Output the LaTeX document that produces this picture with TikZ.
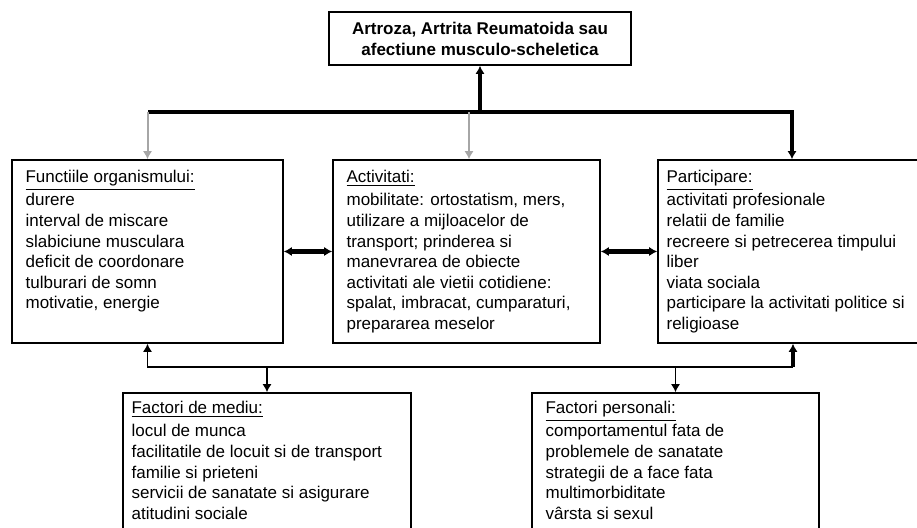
\documentclass[tikz,border=0pt]{standalone}
\usepackage{fontspec}
\setmainfont{Liberation Sans}
\usetikzlibrary{arrows.meta,calc}
\tikzset{
  box/.style={draw, line width=.8pt, inner sep=0pt},
  txt/.style={anchor=north west, align=left, inner sep=0pt, font=\fontsize{8.5}{10.3}\selectfont},
  heavy/.style={line width=2.2pt},
  light/.style={line width=1pt, gray!70},
  bus/.style={line width=.8pt},
}
\begin{document}
\begin{tikzpicture}[x=.5pt, y=.5pt, >={Latex[length=4pt,width=4.6pt]}]
\useasboundingbox (0,0) rectangle (917,528);
\node[box, minimum width=151pt, minimum height=26.5pt, align=center, font=\bfseries\fontsize{8.5}{10.5}\selectfont] (top) at (480,489.5) {Artroza, Artrita Reumatoida sau\\afectiune musculo-scheletica};
\node[box, minimum width=135.5pt, minimum height=91.5pt] (func) at (147.5,276.5) {};
\node[box, minimum width=133.5pt, minimum height=91.5pt] (activ) at (466.5,276.5) {};
\node[box, minimum width=145pt, minimum height=91.5pt] (part) at (803,276.5) {};
\node[box, minimum width=144pt, minimum height=82.5pt] (mediu) at (267,52.5) {};
\node[box, minimum width=143.5pt, minimum height=82.5pt] (pers) at (675.5,52.5) {};
\node[txt] (functxt) at ($(func.north west)+(14,-11)$) {\underline{Functiile organismului:}\\[1.2pt]durere\\interval de miscare\\slabiciune musculara\\deficit de coordonare\\tulburari de somn\\motivatie, energie};
\node[txt] (activtxt) at ($(activ.north west)+(14,-11)$) {\underline{Activitati:}\\[1.2pt]mobilitate: ortostatism, mers,\\utilizare a mijloacelor de\\transport; prinderea si\\manevrarea de obiecte\\activitati ale vietii cotidiene:\\spalat, imbracat, cumparaturi,\\prepararea meselor};
\node[txt] (parttxt) at ($(part.north west)+(9,-11)$) {\underline{Participare:}\\[1.2pt]activitati profesionale\\relatii de familie\\recreere si petrecerea timpului\\liber\\viata sociala\\participare la activitati politice si\\religioase};
\node[txt] (mediutxt) at ($(mediu.north west)+(9,-9)$) {\underline{Factori de mediu:}\\[1.2pt]locul de munca\\facilitatile de locuit si de transport\\familie si prieteni\\servicii de sanatate si asigurare\\atitudini sociale};
\node[txt] (perstxt) at ($(pers.north west)+(14,-9)$) {\underline{Factori personali:}\\[1.2pt]comportamentul fata de\\problemele de sanatate\\strategii de a face fata\\multimorbiditate\\vârsta si sexul};
\coordinate (hub) at (480,416);
\coordinate (bus) at (470,161);
\coordinate (activin) at ($(activ.north)+(2.5,0)$);
\coordinate (partin) at ($(part.north)+(-11,0)$);
\coordinate (partout) at ($(part.south)+(-10,0)$);
\draw[heavy, ->] (hub) -- (top.south);
\draw[heavy] (hub) -- (func.north |- hub);
\draw[heavy, ->] (hub) -| (partin);
\draw[light, ->] (func.north |- hub) -- (func.north);
\draw[light, ->] (activin |- hub) -- (activin);
\draw[heavy, <->] (func.east) -- (activ.west);
\draw[heavy, <->] (activ.east) -- (part.west);
\draw[bus, <-] (func.south) |- (bus);
\draw[bus] (bus) -- (partout |- bus);
\draw[heavy, ->] (partout |- bus) -- (partout);
\draw[bus, ->] (mediu.north |- bus) -- (mediu.north);
\draw[bus, ->] (pers.north |- bus) -- (pers.north);
\end{tikzpicture}
\end{document}
